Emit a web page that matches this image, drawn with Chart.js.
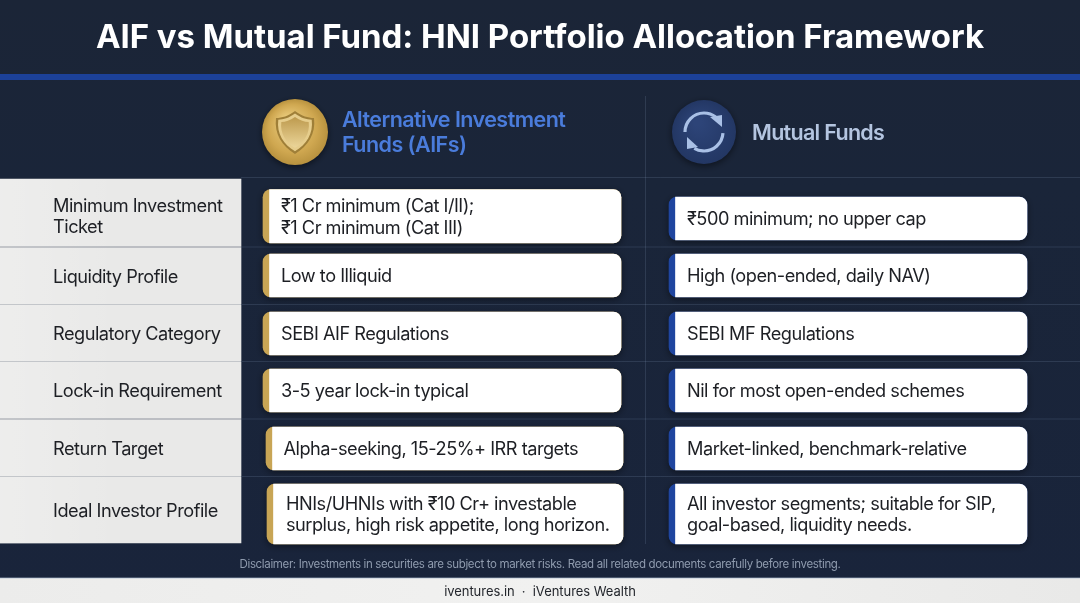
<!DOCTYPE html>
<html><head><meta charset="utf-8">
<style>html,body{margin:0;padding:0;background:#1a2439;overflow:hidden}#wrap{position:absolute;left:0;top:0;width:1080px;height:603px}</style>
<script src="https://cdn.jsdelivr.net/npm/chart.js@4"></script>
</head><body><div id="wrap"><canvas id="c" width="1080" height="603"></canvas></div>
<script>
const titleText = "AIF vs Mutual Fund: HNI Portfolio Allocation Framework";
const aifHeader = ["Alternative Investment","Funds (AIFs)"];
const mfHeader = ["Mutual Funds"];
const categories = [["Minimum Investment","Ticket"],["Liquidity Profile"],["Regulatory Category"],["Lock-in Requirement"],["Return Target"],["Ideal Investor Profile"]];
const aifValues = [["₹1 Cr minimum (Cat I/II);","₹1 Cr minimum (Cat III)"],["Low to Illiquid"],["SEBI AIF Regulations"],["3-5 year lock-in typical"],["Alpha-seeking, 15-25%+ IRR targets"],["HNIs/UHNIs with ₹10 Cr+ investable","surplus, high risk appetite, long horizon."]];
const mfValues = [["₹500 minimum; no upper cap"],["High (open-ended, daily NAV)"],["SEBI MF Regulations"],["Nil for most open-ended schemes"],["Market-linked, benchmark-relative"],["All investor segments; suitable for SIP,","goal-based, liquidity needs."]];
const disclaimer = "Disclaimer: Investments in securities are subject to market risks. Read all related documents carefully before investing.";
const footerText = "iventures.in  ·  iVentures Wealth";

// layout (canvas-scale units, separate from the content above)
const rowTops = [179,247.5,305,362,419.5,477];
const rowBottoms = [247.5,305,362,419.5,477,544];
const labelNudge = [3,0.5,0.5,0.5,0.5,0.5];
const aifSpans = [[263,621,189.5,243],[263,621,254,297],[263,621,312,355],[263,621,369,412],[266,623,427,470],[267,623,484,544]];
const mfSpans = [[669,1027,197,240],[669,1027,254,297],[669,1027,312,355],[669,1027,369,412],[669,1027,427,470],[669,1027,484,544]];
const aifTextX = [281,281,281,281,283.5,286];
const ACC = 6.5, GOLD='#c8a555', BLUE='#1f459f', INK='#1d1f24';
const FONT = 'Inter, sans-serif';

function bar(x0,x1,y0,y1,color,radius,kind){
  return {data:[{y:(y0+y1)/2,x:[x0,x1]}],barThickness:y1-y0,backgroundColor:color,borderRadius:radius,borderSkipped:false,grouped:false,kind:kind};
}
const datasets = [];
// first dataset is painted last: white faces, then full-width accent plates, then the row bands
const face={topLeft:0,bottomLeft:0,topRight:8,bottomRight:8};
aifSpans.concat(mfSpans).forEach(s=>datasets.push(bar(s[0]+ACC,s[1],s[2],s[3],'#ffffff',face,'face')));
aifSpans.forEach(s=>datasets.push(bar(s[0],s[1],s[2],s[3],GOLD,8,'card')));
mfSpans.forEach(s=>datasets.push(bar(s[0],s[1],s[2],s[3],BLUE,8,'card')));
rowTops.forEach((t,i)=>datasets.push(bar(0,241,t,rowBottoms[i]-1,'#e9e9e8',0,'band')));

const art = {
 id:'art',
 beforeDatasetsDraw(ch){
  const c=ch.ctx,x=v=>ch.scales.x.getPixelForValue(v),y=v=>ch.scales.y.getPixelForValue(v);
  const g=c.createLinearGradient(0,0,0,603);
  g.addColorStop(0,'#1b2537');g.addColorStop(.3,'#1a2539');g.addColorStop(1,'#19243b');
  c.fillStyle=g;c.fillRect(0,0,1080,603);
  // header rule
  c.fillStyle='#1c4199';c.fillRect(x(0),y(74),x(1080),6);
  // row rules and divider
  c.strokeStyle='rgba(150,170,200,.17)';c.lineWidth=1;
  [178].concat(rowBottoms.slice(0,5)).forEach(v=>{c.beginPath();c.moveTo(x(241),y(v)-.5);c.lineTo(x(1080),y(v)-.5);c.stroke();});
  c.beginPath();c.moveTo(x(645.5),y(96));c.lineTo(x(645.5),y(544));c.stroke();
  // footer
  let f=c.createLinearGradient(0,0,1080,0);f.addColorStop(0,'#ececeb');f.addColorStop(.5,'#f1f1f0');f.addColorStop(1,'#e9e9e8');
  c.fillStyle=f;c.fillRect(0,y(578),1080,25);
  c.fillStyle='rgba(170,185,205,.7)';c.fillRect(0,y(577.5),1080,1);
 },
 beforeDatasetDraw(ch,a){
  const k=ch.data.datasets[a.index].kind,c=ch.ctx;
  c.save();
  if(k==='card'){c.shadowColor='rgba(0,0,0,.45)';c.shadowBlur=7;c.shadowOffsetY=2;}
 },
 afterDatasetDraw(ch){ch.ctx.restore();},
 afterDatasetsDraw(ch){
  const c=ch.ctx,x=v=>ch.scales.x.getPixelForValue(v),y=v=>ch.scales.y.getPixelForValue(v);
  // soft left sheen on the row bands
  let sh=c.createLinearGradient(0,0,x(120),0);sh.addColorStop(0,'rgba(255,255,255,.2)');sh.addColorStop(1,'rgba(255,255,255,0)');
  c.fillStyle=sh;c.fillRect(0,y(179),x(120),y(544)-y(179));
  // band rules
  c.fillStyle='#c3c6ca';
  rowBottoms.slice(0,5).forEach(v=>c.fillRect(0,y(v)-1,x(241),1));
  // gold disc with shield
  const gx=x(295),gy=y(132),r=33;
  c.save();c.shadowColor='rgba(0,0,0,.5)';c.shadowBlur=6;c.shadowOffsetY=2;
  let d=c.createRadialGradient(gx-8,gy-12,4,gx,gy,r);d.addColorStop(0,'#e8c878');d.addColorStop(.7,'#cfa750');d.addColorStop(1,'#b8923f');
  c.fillStyle=d;c.beginPath();c.arc(gx,gy,r,0,7);c.fill();c.restore();
  const shield=s=>{c.beginPath();c.moveTo(gx,gy-21*s);c.bezierCurveTo(gx+7*s,gy-16*s,gx+13*s,gy-14*s,gx+19*s,gy-14*s);
   c.bezierCurveTo(gx+21*s,gy+2*s,gx+13*s,gy+14*s,gx,gy+22*s);c.bezierCurveTo(gx-13*s,gy+14*s,gx-21*s,gy+2*s,gx-19*s,gy-14*s);
   c.bezierCurveTo(gx-13*s,gy-14*s,gx-7*s,gy-16*s,gx,gy-21*s);c.closePath();};
  shield(1);c.fillStyle='#9f7f38';c.fill();
  shield(.88);c.fillStyle='#e6cd8c';c.fill();
  shield(.72);d=c.createLinearGradient(gx,gy-15,gx,gy+16);d.addColorStop(0,'#bd9a4e');d.addColorStop(1,'#ecd69a');c.fillStyle=d;c.fill();
  // blue disc with arrows
  const bx=x(704),by=y(132),br=32;
  c.save();c.shadowColor='rgba(0,0,0,.5)';c.shadowBlur=7;c.shadowOffsetY=2;
  d=c.createRadialGradient(bx-6,by-10,4,bx,by,br);d.addColorStop(0,'#2d4478');d.addColorStop(1,'#233764');
  c.fillStyle=d;c.beginPath();c.arc(bx,by,br,0,7);c.fill();c.restore();
  c.strokeStyle='#a9c0e6';c.fillStyle='#a9c0e6';c.lineWidth=3.2;c.lineCap='butt';
  c.beginPath();c.arc(bx,by,19,Math.PI,Math.PI*1.71);c.stroke();
  c.beginPath();c.arc(bx,by,19,Math.PI*.02,Math.PI*.67);c.stroke();
  c.beginPath();c.moveTo(bx+18,by-5);c.lineTo(bx+6,by-15);c.lineTo(bx+18,by-17);c.closePath();c.fill();
  c.beginPath();c.moveTo(bx-17,by+5);c.lineTo(bx-17,by+17);c.lineTo(bx-6,by+15);c.closePath();c.fill();
  // text
  c.textBaseline='middle';c.textAlign='left';
  const t=(s,px,py,font,col,ls)=>{c.font=font;c.fillStyle=col;c.letterSpacing=(ls||0)+'px';c.fillText(s,px,py);};
  c.textAlign='center';
  t(titleText,x(540),y(38),'700 33px '+FONT,'#ffffff',-0.04);
  c.textAlign='left';
  aifHeader.forEach((s,i)=>t(s,x(342),y(121+i*25),'600 21.5px '+FONT,'#4a7cdb',-0.55));
  t(mfHeader[0],x(752),y(133.5),'600 21.5px '+FONT,'#b4c5e0',-0.7);
  const lines=(arr,px,cy,col)=>arr.forEach((s,i)=>t(s,px,y(cy+1.2+(i-(arr.length-1)/2)*21.5),'400 18.2px '+FONT,col,-0.5));
  categories.forEach((a,i)=>lines(a,x(53),(rowTops[i]+rowBottoms[i])/2-.5+labelNudge[i],INK));
  aifValues.forEach((a,i)=>lines(a,x(aifTextX[i]),(aifSpans[i][2]+aifSpans[i][3])/2,INK));
  mfValues.forEach((a,i)=>lines(a,x(687),(mfSpans[i][2]+mfSpans[i][3])/2,INK));
  c.textAlign='center';
  t(disclaimer,x(540),y(564.5),'400 11.5px '+FONT,'#8f9bae',-0.35);
  t(footerText,x(540),y(592.5),'400 13px '+FONT,'#23262c',-0.05);
 }
};
new Chart(document.getElementById('c'),{
 type:'bar',
 data:{datasets},
 options:{indexAxis:'y',responsive:false,animation:false,devicePixelRatio:1,
  layout:{padding:0},
  plugins:{legend:{display:false},tooltip:{enabled:false}},
  scales:{
   x:{type:'linear',display:false,min:0,max:1080,offset:false},
   y:{type:'linear',display:false,min:0,max:603,reverse:true,offset:false}
  }},
 plugins:[art]
});
</script></body></html>
